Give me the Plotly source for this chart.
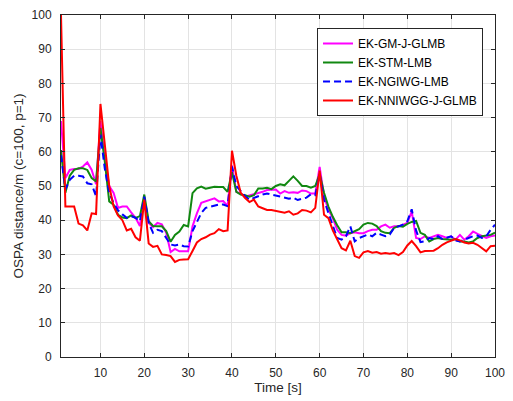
import plotly.graph_objects as go

time_s = list(range(1, 101))

ek_gm_j_glmb = [69, 52.3, 54.7, 55, 55, 55.7, 56.9, 54.7, 50.5, 69,
                58, 50, 48, 43.6, 44, 44, 42.3, 40.7, 38.3, 46.5,
                39.2, 38, 39.2, 38.8, 36.3, 30.7, 31.6, 30.9, 30.9, 30.9,
                38.2, 42, 45.1, 45.6, 46, 46.4, 45.5, 45.6, 44.2, 56,
                48.3, 47.8, 46.9, 47.2, 47.5, 48, 48.3, 48.8, 48.8, 49,
                47.8, 48.5, 48, 48.2, 48, 48.7, 48.5, 47.8, 47.8, 55.6,
                47, 43, 40.6, 37.2, 35.7, 35.5, 36.2, 36.5, 36.2, 36.2,
                36.8, 37.2, 37.2, 38.2, 38.7, 37.8, 38.2, 38.2, 38.7, 39.2,
                42.6, 34.8, 34.5, 35.3, 34.8, 35.3, 35.7, 35.3, 34.8, 35.3,
                34.3, 35.7, 34.3, 35.3, 36.7, 36, 35.3, 34.8, 35.3, 35.5]

ek_stm_lmb = [60.5, 48, 53, 54.7, 55.2, 55.2, 54.7, 52.3, 51.3, 67,
              57, 45.5, 44.5, 41.6, 40.8, 40.6, 41.4, 40.7, 41.2, 47.5,
              39.7, 38.3, 38.2, 38.2, 36.8, 33.7, 35.7, 36.7, 38.6, 38.2,
              47.9, 49.3, 49.8, 49.2, 49.5, 49.8, 49.7, 49.7, 48.3, 54,
              48.3, 47.5, 47.3, 46.9, 47.3, 49.3, 49.3, 49.5, 49.1, 50,
              50.5, 50.2, 51.5, 52.8, 51.5, 50, 50, 49.5, 50, 53.5,
              48, 44, 41, 38.5, 36.5, 36.5, 36.2, 36.7, 37.4, 38.7,
              39.2, 39, 38.3, 36.8, 36.3, 36.2, 37.8, 38.3, 38.1, 38.9,
              39.5, 39.8, 36.3, 35.7, 33.8, 34.5, 34.8, 34.5, 34.3, 34.3,
              34.5, 33.8, 33.8, 33.5, 33.8, 34.8, 35.3, 35.5, 35.7, 36.4]

ek_ngiwg_lmb = [59, 49, 51.8, 53, 53, 52.8, 50.8, 50.5, 47, 65,
                55, 48, 45, 42.9, 41.7, 40.7, 41.2, 40.7, 39.7, 46.9,
                39.2, 36.3, 37.2, 36.8, 34.8, 32.9, 32.6, 32.9, 32.4, 32.3,
                36.8, 39.7, 42.1, 43.6, 43.9, 44.1, 44.6, 44.6, 44.1, 55.7,
                50, 48.5, 47, 46, 46.5, 47.2, 47.5, 47.8, 47.5, 47.2,
                47, 46.6, 46.3, 46.6, 45.9, 46.3, 46.6, 47.6, 47.3, 53.5,
                45.9, 42.1, 38.2, 34.8, 34.3, 35.3, 38.2, 33.8, 34.8, 35.3,
                35.8, 35.3, 36.3, 35.8, 35.3, 35.8, 37.8, 38.2, 38.7, 39.7,
                43.2, 37, 33.6, 33.8, 34.8, 34.5, 35.3, 34.5, 34.8, 35.3,
                34.1, 33.8, 34.3, 34.8, 35.3, 35.5, 34.8, 35.3, 37.2, 38.7]

ek_nniwgg_j_glmb = [100, 44, 44, 44, 39, 38.5, 37, 42, 41.8, 74,
                    62, 50, 44, 41.4, 40, 37, 37.5, 35, 34, 46,
                    33.2, 32.2, 32.5, 30, 29.8, 29.5, 27.8, 28.4, 28.5, 28.6,
                    31, 33.5, 34.5, 35, 35.8, 36.2, 37.4, 36.8, 37, 60.3,
                    53, 48, 46.5, 45.3, 46, 44, 43.5, 43, 43, 42.8,
                    42.6, 42.2, 42.6, 41.6, 42, 43, 42.8, 42.3, 43.6, 54.5,
                    41.6, 40.6, 37, 34.6, 31.8, 31.2, 34, 29.5, 29, 30.6,
                    31, 30.5, 30.7, 30.2, 30.4, 30.2, 30.4, 29.8, 30.7, 32.6,
                    33.9, 32.4, 30.6, 31, 31, 31.1, 31.8, 32.8, 33.5, 34.1,
                    34.5, 34.1, 33.5, 33.2, 33.4, 32.8, 31.8, 30.9, 32.4, 32.5]

x_ticks = [10, 20, 30, 40, 50, 60, 70, 80, 90, 100]
y_ticks = [0, 10, 20, 30, 40, 50, 60, 70, 80, 90, 100]

series = [
    ("EK-GM-J-GLMB", ek_gm_j_glmb, "#FF00FF", "solid"),
    ("EK-STM-LMB", ek_stm_lmb, "#118811", "solid"),
    ("EK-NGIWG-LMB", ek_ngiwg_lmb, "#0000FF", "7px,4px"),
    ("EK-NNIWGG-J-GLMB", ek_nniwgg_j_glmb, "#FF0000", "solid"),
]

fig = go.Figure()
for name, vals, color, dash in series:
    fig.add_trace(go.Scatter(x=time_s, y=vals, mode="lines", name=name,
                             line=dict(color=color, width=2, dash=dash)))

axis_color = "#262626"
font_family = "Liberation Sans, Arial, sans-serif"

fig.update_layout(
    width=513, height=401,
    margin=dict(l=61, r=18, t=15, b=44),
    paper_bgcolor="white", plot_bgcolor="white",
    font=dict(family=font_family, size=12, color=axis_color),
    showlegend=True,
    legend=dict(x=0.9724, y=0.962, xanchor="right", yanchor="top",
                bgcolor="white", bordercolor=axis_color, borderwidth=1,
                font=dict(size=12, color="black", family=font_family),
                tracegroupgap=0, itemwidth=30),
)
fig.update_xaxes(range=[1, 100], tickvals=x_ticks, ticks="inside", ticklen=4,
                 tickcolor=axis_color, showline=True, linecolor=axis_color,
                 linewidth=1, mirror="ticks", showgrid=True, gridcolor="#e3e3e3",
                 zeroline=False, ticklabelstandoff=5, automargin=False,
                 title=dict(text="Time [s]", font=dict(size=13.5), standoff=0))
fig.update_yaxes(range=[0, 100], tickvals=y_ticks, ticks="inside", ticklen=4,
                 tickcolor=axis_color, showline=True, linecolor=axis_color,
                 linewidth=1, mirror="ticks", showgrid=True, gridcolor="#e3e3e3",
                 zeroline=False, ticklabelstandoff=6, automargin=False,
                 title=dict(text="OSPA distance/m (c=100, p=1)", font=dict(size=13.5), standoff=4))

fig.write_html("out.html")
